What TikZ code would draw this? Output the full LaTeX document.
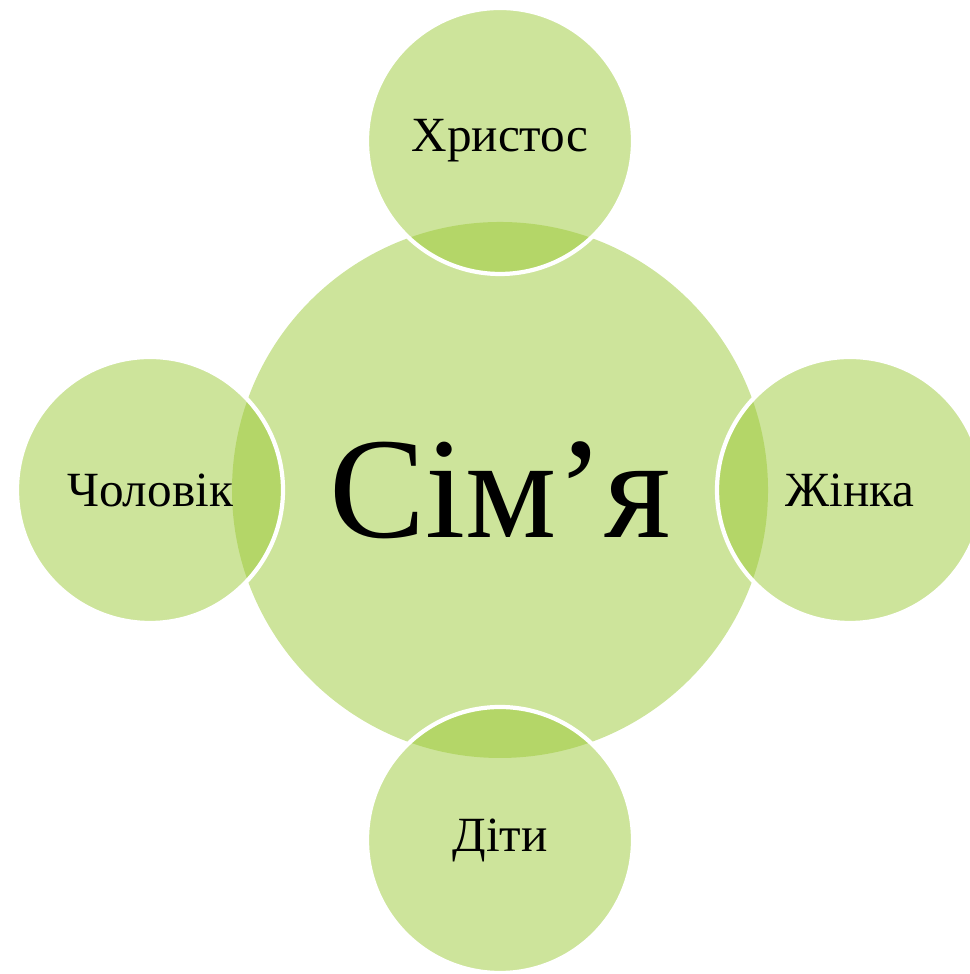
\documentclass[tikz,border=0pt]{standalone}
\usepackage{fontspec}
\setmainfont{Liberation Serif}
\definecolor{leaf}{RGB}{155,201,55}
\begin{document}
\begin{tikzpicture}[
    disc/.style={circle, fill=leaf, fill opacity=0.5, text opacity=1, inner sep=0pt},
    bubble/.style={disc, draw=white, line width=1.2pt, minimum size=2.66cm, font=\fontsize{14}{17}\selectfont}]
    \useasboundingbox (0, 0) rectangle (9.69, 9.74);

    \node[disc, minimum size=5.36cm, font=\fontsize{41}{46}\selectfont] (simja) at (5, 4.84) {Сім’я};

    \node[bubble] (khrystos) at (5, 8.33) {Христос};
    \node[bubble] (cholovik) at (1.5, 4.84) {Чоловік};
    \node[bubble] (zhinka) at (8.5, 4.84) {Жінка};
    \node[bubble] (dity) at (5, 1.34) {Діти};
  \end{tikzpicture}
\end{document}
